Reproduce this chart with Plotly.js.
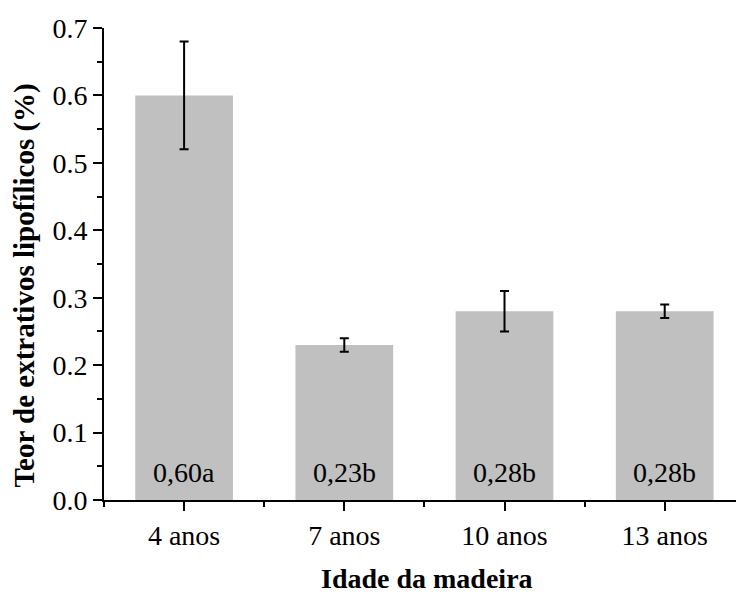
<!DOCTYPE html>
<html>
<head>
<meta charset="utf-8">
<script src="https://cdn.plot.ly/plotly-3.0.1.min.js"></script>
<style>
  html, body { margin: 0; padding: 0; background: #ffffff; }
  #chart { width: 736px; height: 596px; }
</style>
</head>
<body>
<div id="chart"></div>
<script>
// Lipophilic extractive content by wood age
const categories = ["4 anos", "7 anos", "10 anos", "13 anos"];
const teor = [0.60, 0.23, 0.28, 0.28];
const desvio = [0.08, 0.01, 0.03, 0.01];
const letras = ["a", "b", "b", "b"];

const FONT = "Liberation Serif, Times New Roman, serif";
const positions = categories.map((_, i) => i);

const bars = {
  type: "bar",
  x: positions,
  y: teor,
  width: 0.61,
  marker: { color: "#c0c0c0", line: { width: 0 } },
  error_y: {
    type: "data",
    array: desvio,
    visible: true,
    color: "#000000",
    thickness: 2,
    width: 4.5
  },
  hoverinfo: "x+y",
  showlegend: false
};

// value + Tukey letter written at the foot of each bar
const barLabels = teor.map((v, i) => ({
  x: positions[i],
  y: 0,
  xref: "x",
  yref: "y",
  text: v.toFixed(2).replace(".", ",") + letras[i],
  showarrow: false,
  xanchor: "center",
  yanchor: "bottom",
  yshift: 10,
  font: { family: FONT, size: 28, color: "#000000" }
}));

const layout = {
  width: 736,
  height: 596,
  margin: { l: 104, r: 0, t: 28, b: 96, pad: 0 },
  paper_bgcolor: "#ffffff",
  plot_bgcolor: "#ffffff",
  font: { family: FONT, color: "#000000" },
  xaxis: {
    range: [-0.5, 3.445],
    tickmode: "array",
    tickvals: positions,
    ticktext: categories,
    ticks: "outside",
    ticklen: 9,
    tickwidth: 2,
    tickcolor: "#000000",
    showline: true,
    linewidth: 2,
    linecolor: "#000000",
    showgrid: false,
    zeroline: false,
    tickfont: { family: FONT, size: 28, color: "#000000" },
    minor: {
      tickmode: "linear",
      tick0: -0.5,
      dtick: 1,
      ticks: "outside",
      ticklen: 5,
      tickwidth: 2,
      tickcolor: "#000000",
      showgrid: false
    },
    fixedrange: true
  },
  yaxis: {
    range: [0, 0.7],
    tickmode: "linear",
    tick0: 0,
    dtick: 0.1,
    tickformat: ".1f",
    ticks: "outside",
    ticklen: 9,
    tickwidth: 2,
    tickcolor: "#000000",
    showline: true,
    linewidth: 2,
    linecolor: "#000000",
    showgrid: false,
    zeroline: false,
    tickfont: { family: FONT, size: 28, color: "#000000" },
    minor: {
      tickmode: "linear",
      tick0: 0,
      dtick: 0.05,
      ticks: "outside",
      ticklen: 5,
      tickwidth: 2,
      tickcolor: "#000000",
      showgrid: false
    },
    fixedrange: true
  },
  annotations: barLabels.concat([
    {
      text: "<b>Teor de extrativos lipofílicos (%)</b>",
      xref: "paper",
      yref: "paper",
      x: -0.126,
      y: 0.455,
      xanchor: "center",
      yanchor: "middle",
      textangle: -90,
      showarrow: false,
      font: { family: FONT, size: 29, color: "#000000" }
    },
    {
      text: "<b>Idade da madeira</b>",
      xref: "paper",
      yref: "paper",
      x: 0.5106,
      y: -0.2034,
      xanchor: "center",
      yanchor: "bottom",
      showarrow: false,
      font: { family: FONT, size: 28, color: "#000000" }
    }
  ]),
  bargap: 0.39
};

Plotly.newPlot("chart", [bars], layout, { displayModeBar: false, staticPlot: true });
</script>
</body>
</html>
